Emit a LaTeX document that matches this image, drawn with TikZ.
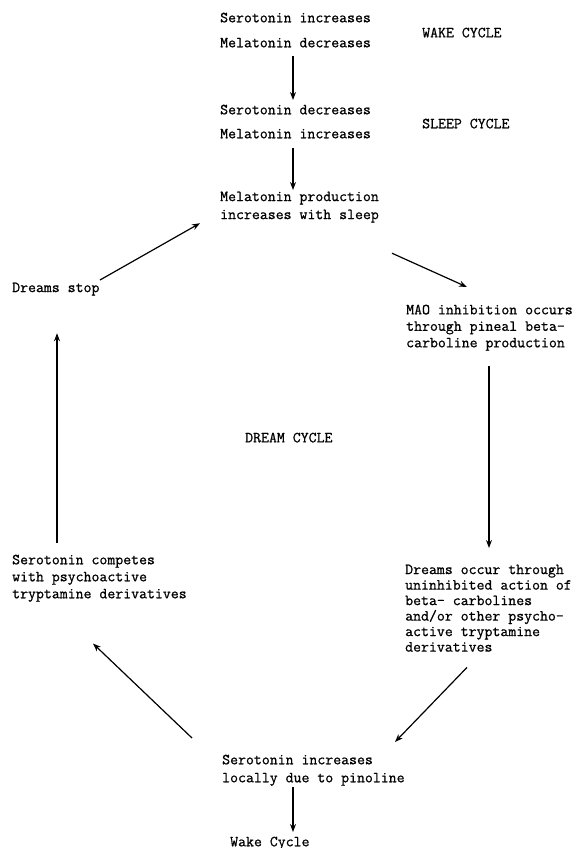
\documentclass[tikz,border=0pt]{standalone}
\usepackage{fontspec}
\setmonofont{Latin Modern Mono}[FakeBold=0.8]
\usetikzlibrary{arrows.meta,calc}
\begin{document}
\begin{tikzpicture}[x=1pt,y=-1pt,
  txt/.style={anchor=north west,inner sep=0pt,align=left,
    font=\ttfamily\bfseries\fontsize{15.4}{16.5}\selectfont},
  arr/.style={-{Stealth[length=8pt,width=6pt]},line width=1.2pt}]
\useasboundingbox (0,0) rectangle (576,848);
\node[txt] (wake) at (220,12.5) {Serotonin increases\\[8.5pt]Melatonin decreases};
\node[txt] (wakelbl) at (422,27.5) {WAKE CYCLE};
\node[txt] (sleep) at (220,104.5) {Serotonin decreases\\[7.5pt]Melatonin increases};
\node[txt] (sleeplbl) at (422,118.5) {SLEEP CYCLE};
\node[txt] (prod) at (220,191.5) {Melatonin production\\[1.5pt]increases with sleep};
\node[txt] (mao) at (406,304.5) {MAO inhibition occurs\\through pineal beta-\\carboline production};
\node[txt] (occur) at (405,564.5) {Dreams occur through\\[-1pt]uninhibited action of\\[-1pt]beta- carbolines\\[-1pt]and/or other psycho-\\[-1pt]active tryptamine\\[-1pt]derivatives};
\node[txt] (stop) at (12,282.5) {Dreams stop};
\node[txt] (dreamlbl) at (245,432.5) {DREAM CYCLE};
\node[txt] (compete) at (12,554.5) {Serotonin competes\\[0.5pt]with psychoactive\\[0.5pt]tryptamine derivatives};
\node[txt] (local) at (222,754.5) {Serotonin increases\\[1.5pt]locally due to pinoline};
\node[txt] (wakeend) at (230,836.5) {Wake Cycle};

\draw[arr] ($(wake.south west)+(73,8)$) -- ($(sleep.north west)+(73,-4.5)$);
\draw[arr] ($(sleep.south west)+(73,9)$) -- ($(prod.north west)+(73,-1.5)$);
\draw[arr] ($(prod.south west)+(172,30.5)$) -- ($(mao.north west)+(61,-17.5)$);
\draw[arr] ($(mao.south west)+(83,15.5)$) -- ($(occur.north west)+(84,-16.5)$);
\draw[arr] ($(occur.south west)+(62,15.5)$) -- ($(local.north west)+(173,-12.5)$);
\draw[arr] ($(local.south west)+(71,1)$) -- ($(wakeend.north west)+(63,-4.5)$);
\draw[arr] ($(local.north west)+(-30,-16.5)$) -- ($(compete.south west)+(81,41.5)$);
\draw[arr] ($(compete.north west)+(45,-11.5)$) -- ($(stop.south west)+(45,37.5)$);
\draw[arr] ($(stop.north west)+(88,-2.5)$) -- ($(prod.south west)+(-20,0.5)$);
\end{tikzpicture}
\end{document}
